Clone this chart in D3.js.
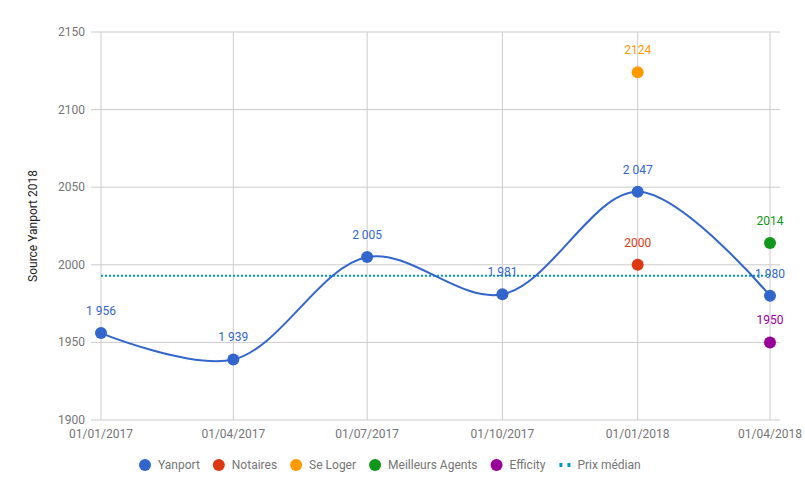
<!DOCTYPE html>
<html>
<head>
<meta charset="utf-8">
<script src="https://cdn.jsdelivr.net/npm/d3@7"></script>
<style>
  body { margin: 0; background: #fff; }
  text { font-family: Roboto, "Noto Sans", sans-serif; }
</style>
</head>
<body>
<div id="chart"></div>
<script>
// ==== Data ====
const dates = ["2017-01-01", "2017-04-01", "2017-07-01", "2017-10-01", "2018-01-01", "2018-04-01"];
const yanport = [1956, 1939, 2005, 1981, 2047, 1980];
const notaires = [{ date: "2018-01-01", value: 2000 }];
const seLoger = [{ date: "2018-01-01", value: 2124 }];
const meilleursAgents = [{ date: "2018-04-01", value: 2014 }];
const efficity = [{ date: "2018-04-01", value: 1950 }];
const prixMedian = 1993;
const yTicks = [1900, 1950, 2000, 2050, 2100, 2150];

const legendItems = [
  { name: "Yanport", color: "#3366cc" },
  { name: "Notaires", color: "#dc3912" },
  { name: "Se Loger", color: "#ff9900" },
  { name: "Meilleurs Agents", color: "#109618" },
  { name: "Efficity", color: "#990099" },
  { name: "Prix médian", color: "#0099c6", dotted: true }
];

// ==== Setup ====
const width = 805, height = 498;
const svg = d3.select("#chart").append("svg")
  .attr("width", width)
  .attr("height", height);

const parse = d3.timeParse("%Y-%m-%d");
const fmtDate = d3.timeFormat("%d/%m/%Y");
const frNum = d => d3.format(",")(d).replace(",", " ");

const x = d3.scaleTime()
  .domain([parse(dates[0]), parse(dates[dates.length - 1])])
  .range([101, 770]);
const y = d3.scaleLinear().domain([1900, 2150]).range([420, 32]);

const gridLeft = 91, gridRight = 780;

// horizontal grid + y labels
const yAxis = svg.append("g");
yTicks.forEach(t => {
  yAxis.append("line")
    .attr("x1", gridLeft).attr("x2", gridRight)
    .attr("y1", y(t)).attr("y2", y(t))
    .attr("stroke", "#cccccc").attr("stroke-width", 1);
  yAxis.append("text")
    .attr("x", 85).attr("y", y(t))
    .attr("text-anchor", "end").attr("dominant-baseline", "central")
    .attr("font-size", 12).attr("fill", "#757575")
    .text(t);
});

// vertical grid + x labels
const xAxis = svg.append("g");
dates.forEach(d => {
  const xx = x(parse(d));
  xAxis.append("line")
    .attr("x1", xx).attr("x2", xx)
    .attr("y1", y(2150)).attr("y2", y(1900))
    .attr("stroke", "#cccccc").attr("stroke-width", 1);
  xAxis.append("text")
    .attr("x", xx).attr("y", 434)
    .attr("text-anchor", "middle").attr("dominant-baseline", "central")
    .attr("font-size", 12).attr("fill", "#757575")
    .text(fmtDate(parse(d)));
});

// y axis title
svg.append("text")
  .attr("transform", `translate(33,${(y(2150) + y(1900)) / 2}) rotate(-90)`)
  .attr("text-anchor", "middle").attr("dominant-baseline", "central")
  .attr("font-size", 12).attr("fill", "#222")
  .text("Source Yanport 2018");

// median line
svg.append("line")
  .attr("x1", x(parse(dates[0]))).attr("x2", x(parse(dates[dates.length - 1])))
  .attr("y1", y(prixMedian)).attr("y2", y(prixMedian))
  .attr("stroke", "#0099c6").attr("stroke-width", 2)
  .attr("stroke-dasharray", "2,2");

// yanport curve
const yanData = dates.map((d, i) => ({ date: parse(d), value: yanport[i] }));
const line = d3.line()
  .x(d => x(d.date)).y(d => y(d.value))
  .curve(d3.curveCatmullRom.alpha(0.5));
svg.append("path")
  .datum(yanData)
  .attr("d", line)
  .attr("fill", "none").attr("stroke", "#3366cc").attr("stroke-width", 2);

function drawPoints(data, color, label) {
  const g = svg.append("g");
  g.selectAll("circle").data(data).join("circle")
    .attr("cx", d => x(d.date)).attr("cy", d => y(d.value))
    .attr("r", 6).attr("fill", color);
  g.selectAll("text").data(data).join("text")
    .attr("x", d => x(d.date)).attr("y", d => y(d.value) - 22)
    .attr("text-anchor", "middle").attr("dominant-baseline", "central")
    .attr("font-size", 12).attr("fill", color)
    .text(label);
}

drawPoints(yanData, "#3366cc", d => frNum(d.value));
const toPts = arr => arr.map(p => ({ date: parse(p.date), value: p.value }));
drawPoints(toPts(notaires), "#dc3912", d => d.value);
drawPoints(toPts(seLoger), "#ff9900", d => d.value);
drawPoints(toPts(meilleursAgents), "#109618", d => d.value);
drawPoints(toPts(efficity), "#990099", d => d.value);

// ==== Legend ====
const legend = svg.append("g");
let lx = 139;
const ly = 465;
legendItems.forEach(item => {
  if (item.dotted) {
    legend.append("line")
      .attr("x1", lx + 1).attr("x2", lx + 12)
      .attr("y1", ly).attr("y2", ly)
      .attr("stroke", item.color).attr("stroke-width", 4)
      .attr("stroke-dasharray", "3,5");
  } else {
    legend.append("circle")
      .attr("cx", lx + 6).attr("cy", ly).attr("r", 6)
      .attr("fill", item.color);
  }
  const t = legend.append("text")
    .attr("x", lx + 19).attr("y", ly)
    .attr("dominant-baseline", "central")
    .attr("font-size", 12).attr("fill", "#757575")
    .text(item.name);
  lx += 19 + t.node().getComputedTextLength() + 13;
});
</script>
</body>
</html>
